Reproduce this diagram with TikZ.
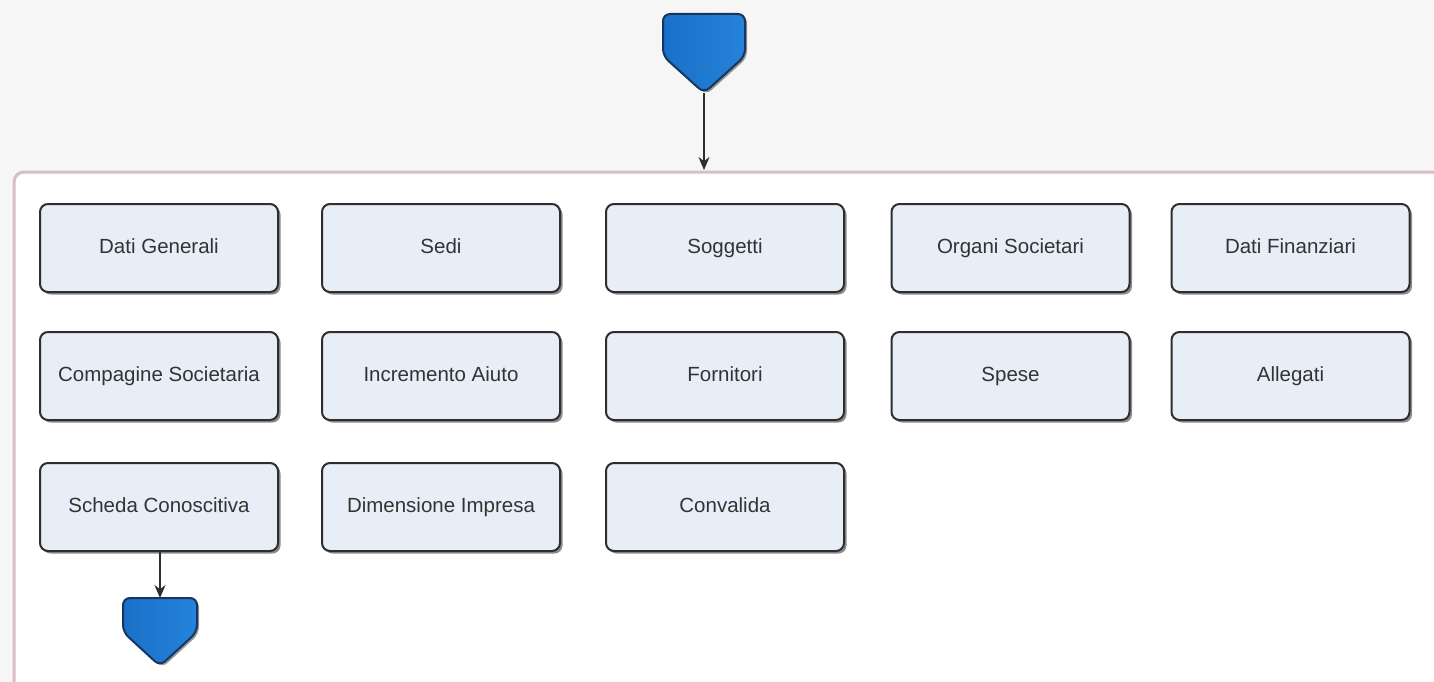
\documentclass[tikz,border=0pt]{standalone}
\usepackage{fontspec}
\setmainfont{Liberation Sans}
\usetikzlibrary{arrows.meta,shadows}
\definecolor{bggray}{HTML}{F6F6F6}
\definecolor{frame}{HTML}{D9BEC6}
\definecolor{boxfill}{HTML}{E8EEF7}
\definecolor{boxline}{HTML}{2E2E2E}
\definecolor{blueA}{HTML}{1A70C8}
\definecolor{blueB}{HTML}{2583DA}
\definecolor{navy}{HTML}{163660}
\definecolor{txt}{HTML}{333333}
\tikzset{
  stepbox/.style={draw=boxline, line width=2pt, fill=boxfill, rounded corners=8pt,
    minimum width=238pt, minimum height=88pt, inner sep=0pt,
    font=\fontsize{20.5}{24}\selectfont, text=txt, text height=14.5pt, text depth=4pt,
    drop shadow={shadow xshift=2.5pt, shadow yshift=-2.5pt, opacity=0.45, fill=black}},
  pent/.style={draw=navy, line width=2pt, left color=blueA, right color=blueB, rounded corners=7pt,
    drop shadow={shadow xshift=2pt, shadow yshift=-2pt, opacity=0.4, fill=black}},
  conn/.style={draw=boxline, line width=1.5pt, -{Stealth[length=13pt,width=11pt]}}
}
\begin{document}
\begin{tikzpicture}[x=1pt,y=-1pt]
\useasboundingbox (0,0) rectangle (1434,682);
\fill[bggray] (0,0) rectangle (1434,682);
% container
\draw[frame, line width=3pt, fill=white, rounded corners=10pt] (1440,172) -- (14,172) -- (14,700) -- (1440,700);
\coordinate (ctop) at (704,170);
% top pentagon
\draw[pent] (663,14) -- (745,14) -- (745,56) -- (704,93) -- (663,56) -- cycle;
\coordinate (ptop) at (704,93);
\draw[conn] (ptop) -- (ctop);
% boxes
\node[stepbox] (dg) at (159,248) {Dati Generali};
\node[stepbox] (sedi) at (441,248) {Sedi};
\node[stepbox] (sogg) at (725,248) {Soggetti};
\node[stepbox] (org) at (1010.5,248) {Organi Societari};
\node[stepbox] (dfin) at (1290.5,248) {Dati Finanziari};
\node[stepbox] (comp) at (159,376) {Compagine Societaria};
\node[stepbox] (incr) at (441,376) {Incremento Aiuto};
\node[stepbox] (forn) at (725,376) {Fornitori};
\node[stepbox] (spese) at (1010.5,376) {Spese};
\node[stepbox] (alleg) at (1290.5,376) {Allegati};
\node[stepbox] (sch) at (159,507) {Scheda Conoscitiva};
\node[stepbox] (dim) at (441,507) {Dimensione Impresa};
\node[stepbox] (conv) at (725,507) {Convalida};
% bottom pentagon
\draw[pent] (123,598) -- (197,598) -- (197,632) -- (160,666) -- (123,632) -- cycle;
\coordinate (pbot) at (160,598);
\draw[conn] (sch.south -| pbot) -- (pbot);
\end{tikzpicture}
\end{document}
